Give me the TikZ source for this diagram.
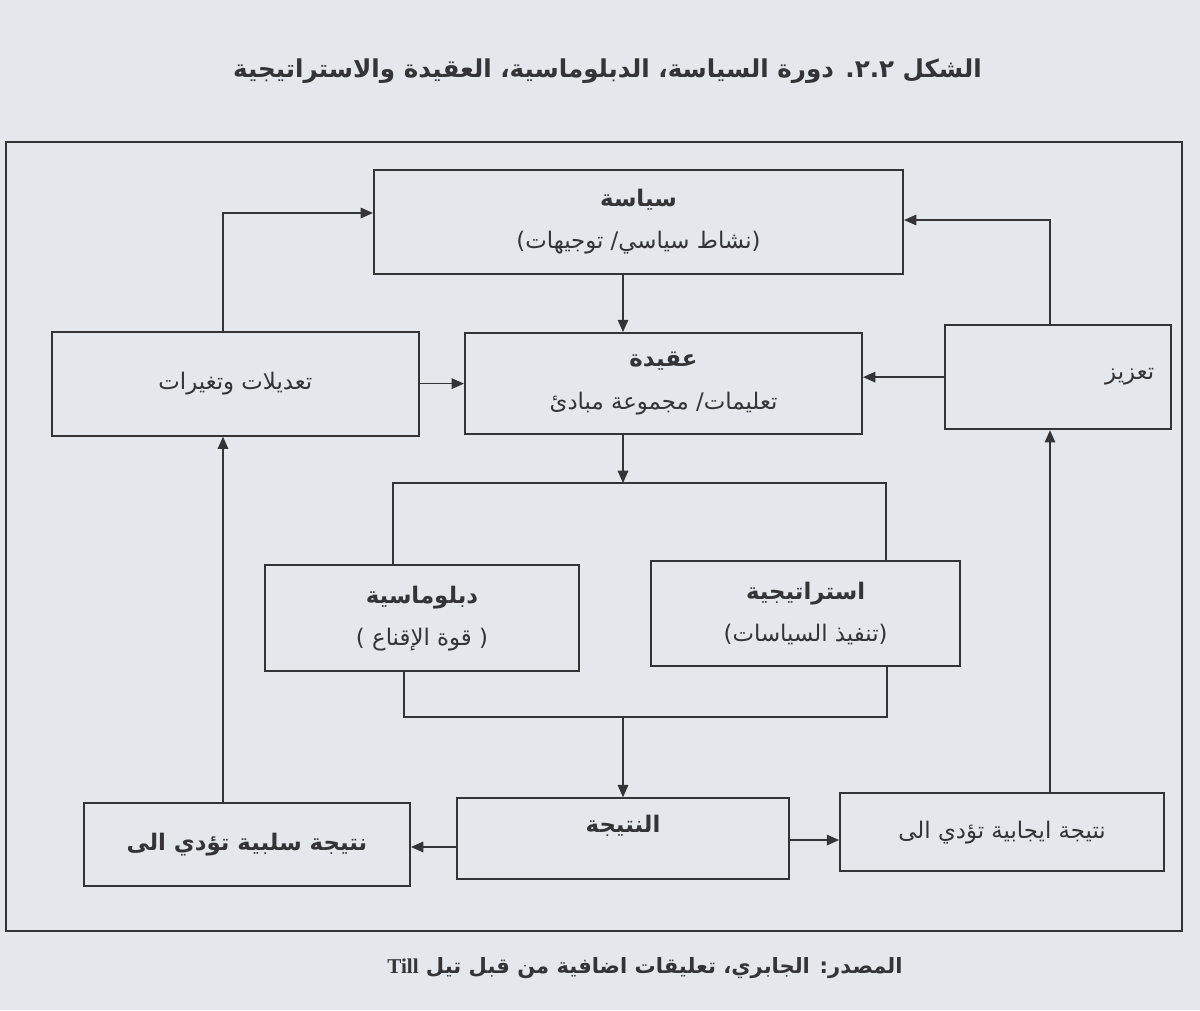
\documentclass[tikz,border=0pt]{standalone}
\usepackage{fontspec}
\setmainfont{DejaVu Sans}
\newfontfamily\arabicfont[Script=Arabic]{DejaVu Sans}
\newfontfamily\latinbold{Liberation Serif}
\TeXXeTstate=1
\usepackage{tikz}
\usetikzlibrary{arrows.meta, positioning}
\definecolor{paper}{RGB}{228,231,236}
\definecolor{ink}{RGB}{52,52,54}
\newcommand{\artext}[1]{{\arabicfont\beginR #1\endR}}

\begin{document}
\begin{tikzpicture}[
      font=\arabicfont\fontsize{13}{24}\selectfont,
      blk/.style={draw=ink, line width=1.2pt, text=ink, align=center,
                  inner sep=0pt, minimum height=2.08cm},
      arr/.style={draw=ink, line width=0.85pt, -{Triangle[length=7pt,width=6pt]}},
      lnk/.style={draw=ink, line width=0.85pt},
      hd/.style={text=ink, font=\arabicfont\bfseries\fontsize{14}{18}\selectfont}]

    % ── Fond et cadre ──
    \fill[paper] (0,0) rectangle (24,-20.2);
    \draw[ink, line width=1.1pt] (0.12,-2.84) rectangle (23.64,-18.62);

    % ── Titre ──
    \node[hd] (title) at (12.15,-1.42)
      {\artext{الشكل ٢.٢. دورة السياسة، الدبلوماسية، العقيدة والاستراتيجية}};

    % ── Niveau haut ──
    \node[blk, minimum width=10.58cm] (siyasa) at (12.77,-4.44)
      {\artext{\bfseries سياسة}\\\artext{(نشاط سياسي/ توجيهات)}};
    \node[blk, minimum width=7.94cm, minimum height=2.02cm,
          below=1.14cm of siyasa, xshift=0.5cm] (aqida)
      {\artext{\bfseries عقيدة}\\\artext{تعليمات/ مجموعة مبادئ}};
    \node[blk, minimum width=7.34cm, left=0.88cm of aqida] (tadilat)
      {\artext{تعديلات وتغيرات}};
    \node[blk, minimum width=4.52cm, text width=3.84cm, align=right,
          right=1.62cm of aqida, yshift=0.13cm] (taziz)
      {\artext{تعزيز}};

    % ── Diplomatie et stratégie ──
    \node[blk, minimum width=6.28cm, minimum height=2.12cm,
          below=2.58cm of aqida, xshift=-4.83cm] (diplo)
      {\artext{\bfseries دبلوماسية}\\\artext{( قوة الإقناع )}};
    \node[blk, minimum width=6.18cm, minimum height=2.1cm,
          right=1.4cm of diplo, yshift=0.09cm] (strat)
      {\artext{\bfseries استراتيجية}\\\artext{(تنفيذ السياسات)}};

    % ── Résultats ──
    \node[blk, minimum width=6.64cm, minimum height=1.62cm, text depth=0.62cm,
          below=2.5cm of diplo, xshift=4.02cm] (natija)
      {\artext{\bfseries النتيجة}};
    \node[blk, minimum width=6.52cm, minimum height=1.66cm,
          left=0.9cm of natija, yshift=-0.12cm] (salbi)
      {\artext{\bfseries نتيجة سلبية تؤدي الى}};
    \node[blk, minimum width=6.48cm, minimum height=1.56cm,
          right=0.98cm of natija, yshift=0.13cm] (ijabi)
      {\artext{نتيجة ايجابية تؤدي الى}};

    % ── Source ──
    \node[hd, font=\arabicfont\bfseries\fontsize{12}{14}\selectfont] (source) at (12.9,-19.36)
      {\artext{المصدر: الجابري، تعليقات اضافية من قبل تيل \beginL{\latinbold Till}\endL}};

    % ── Points de passage ──
    \coordinate (spine) at (12.46,0);
    \coordinate (topL) at (4.46,-4.26);
    \coordinate (topR) at (21.0,-4.4);
    \coordinate (brtl) at (7.86,-9.66);
    \coordinate (brtr) at (17.72,-9.66);
    \coordinate (brbl) at (8.08,-14.34);
    \coordinate (brbr) at (17.74,-14.34);
    \coordinate (outL) at (0,-16.94);
    \coordinate (outR) at (0,-16.8);

    % ── Flèches ──
    \draw[arr] (siyasa.south -| spine) -- (aqida.north -| spine);
    \draw[arr] (aqida.south -| spine) -- (spine |- brtl);
    \draw[lnk] (diplo.north -| brtl) -- (brtl) -- (brtr) -- (strat.north -| brtr);
    \draw[lnk] (diplo.south -| brbl) -- (brbl) -- (brbr) -- (strat.south -| brbr);
    \draw[arr] (spine |- brbl) -- (natija.north -| spine);
    \draw[arr] (natija.west |- outL) -- (salbi.east |- outL);
    \draw[arr] (natija.east |- outR) -- (ijabi.west |- outR);
    \draw[arr] (salbi.north -| topL) -- (tadilat.south -| topL);
    \draw[arr] (ijabi.north -| topR) -- (taziz.south -| topR);
    \draw[arr] (tadilat.north -| topL) -- (topL) -- (siyasa.west |- topL);
    \draw[arr] (taziz.north -| topR) -- (topR) -- (siyasa.east |- topR);
    \draw[arr] (tadilat.east) -- (aqida.west |- tadilat.east);
    \draw[arr] (taziz.west) -- (aqida.east |- taziz.west);

  \end{tikzpicture}
\end{document}
